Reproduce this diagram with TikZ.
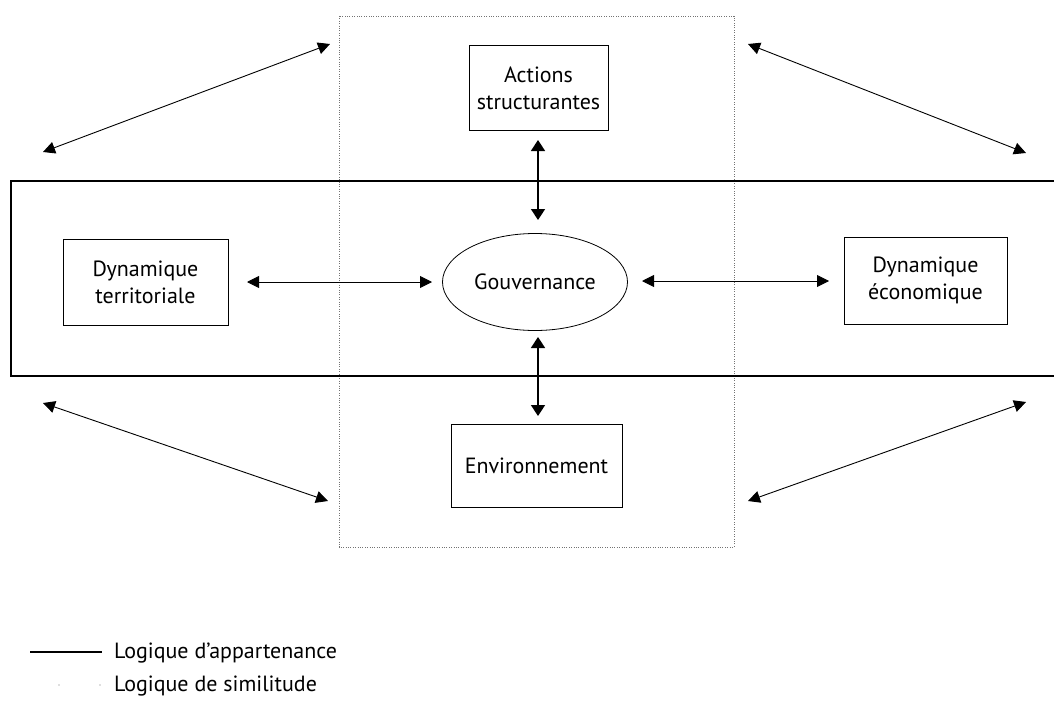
\documentclass[tikz,border=0pt]{standalone}
\usepackage{fontspec}
\setmainfont{PT Sans}
\usetikzlibrary{arrows.meta,shapes.geometric}
\begin{document}
\begin{tikzpicture}[x=1pt,y=-1pt,
  box/.style={draw,line width=1pt,inner sep=0pt,align=center,font=\fontsize{22}{27}\selectfont},
  dbl/.style={{Triangle[width=12pt,length=12pt]}-{Triangle[width=12pt,length=12pt]},line width=0.9pt},
  dblv/.style={{Triangle[width=14pt,length=11pt]}-{Triangle[width=14pt,length=11pt]},line width=1.6pt},
  simil/.style={draw=black!55,line width=0.6pt,dash pattern=on 0.8pt off 1.6pt},
  appart/.style={line width=2.4pt},
  legtext/.style={anchor=west,font=\fontsize{22}{27}\selectfont,inner sep=0pt}]
\useasboundingbox (0,0) rectangle (1054,709);
% similitude (dotted) rectangle
\draw[simil] (339,16) rectangle (734,547);
% appartenance band
\draw[appart] (1054,181) -- (11,181) -- (11,376) -- (1054,376);
% nodes
\node[box,minimum width=139pt,minimum height=85pt] (act) at (538.5,88) {Actions\\structurantes};
\node[draw,ellipse,line width=0.8pt,minimum width=185pt,minimum height=97pt,inner sep=0pt,font=\fontsize{22}{27}\selectfont] (gov) at (535,282) {Gouvernance};
\node[box,minimum width=171pt,minimum height=83pt] (env) at (536.5,465.5) {Environnement};
\node[box,minimum width=165pt,minimum height=86pt] (dt) at (145.5,282) {Dynamique\\territoriale};
\node[box,minimum width=163pt,minimum height=87pt] (de) at (925.5,280.5) {Dynamique\\économique};
% connectors
\coordinate (a1) at (538,140);
\coordinate (a2) at (538,220);
\draw[dblv] (a1) -- (a2);
\coordinate (e1) at (538,337);
\coordinate (e2) at (538,416);
\draw[dblv] (e1) -- (e2);
\coordinate (l1) at (247,282);
\coordinate (l2) at (432,282);
\draw[dbl] (l1) -- (l2);
\coordinate (r1) at (642,281);
\coordinate (r2) at (829,281);
\draw[dbl] (r1) -- (r2);
% diagonal arrows
\coordinate (tl1) at (43,152);
\coordinate (tl2) at (330,44);
\draw[dbl] (tl1) -- (tl2);
\coordinate (tr1) at (748,44);
\coordinate (tr2) at (1026,153);
\draw[dbl] (tr1) -- (tr2);
\coordinate (bl1) at (43,403);
\coordinate (bl2) at (328,501);
\draw[dbl] (bl1) -- (bl2);
\coordinate (br1) at (748,501);
\coordinate (br2) at (1026,402);
\draw[dbl] (br1) -- (br2);
% legend
\coordinate (lg1) at (30,652);
\coordinate (lg2) at (102,652);
\draw[appart] (lg1) -- (lg2);
\node[legtext] (lt1) at (114,653) {Logique d’appartenance};
\coordinate (ls1) at (59,685);
\coordinate (ls2) at (100,685);
\fill[black!55] (ls1) circle (0.7pt);
\fill[black!55] (ls2) circle (0.7pt);
\node[legtext] (lt2) at (114,686) {Logique de similitude};
\end{tikzpicture}
\end{document}
